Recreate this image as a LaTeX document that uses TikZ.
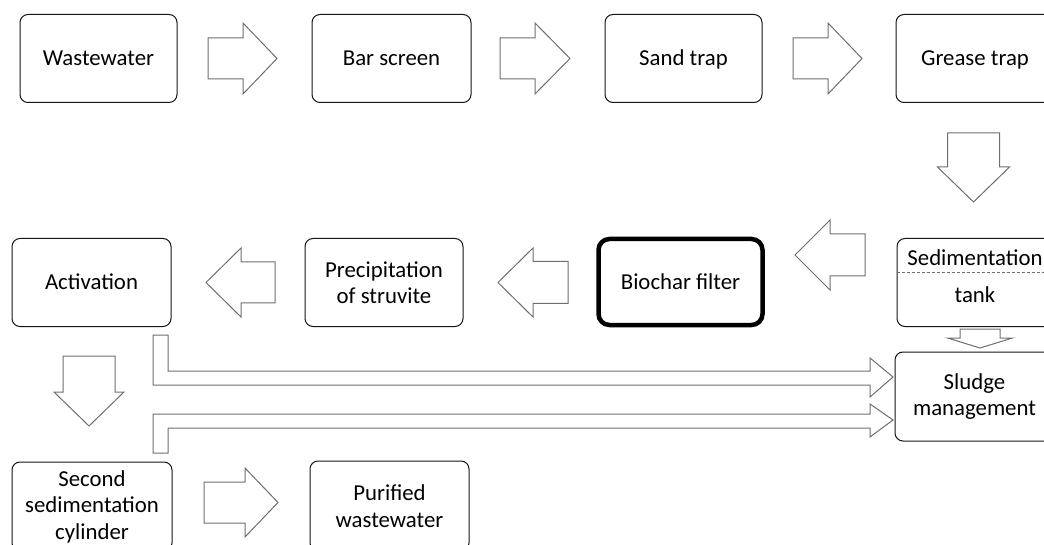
\documentclass[tikz,border=0pt]{standalone}
\usepackage{fontspec}
\setmainfont{Carlito}
\usepackage{xcolor}
\usepackage{tikz}
\usetikzlibrary{positioning, calc}

\definecolor{boxline}{RGB}{20,20,20}
\definecolor{arrowgray}{RGB}{110,110,110}

\tikzset{
	stepbox/.style={draw=boxline, line width=1pt, rounded corners=8pt, minimum width=158pt, minimum height=88pt, align=center, inner sep=2pt, text=black},
	oneline/.style={text height=19.5pt, text depth=5pt},
	keybox/.style={stepbox, draw=black, line width=4.5pt, rounded corners=11pt},
	arrowline/.style={draw=arrowgray, line width=1pt, line join=miter},
	plaintext/.style={inner sep=0pt, text=black}
}

% tail point, angle, shaft length, head length, shaft half width, head half width
\newcommand{\flowarrow}[6]{%
	\draw[arrowline, shift={#1}, rotate=#2] (0,#5) -- (#3,#5) -- (#3,#6) -- ({#3+#4},0) -- (#3,-#6) -- (#3,-#5) -- (0,-#5) -- cycle;}

\begin{document}
\begin{tikzpicture}[x=1pt, y=1pt,
			font=\fontsize{22.8}{26.5}\selectfont]
			\useasboundingbox (0,0) rectangle (1044,-545);
			\clip (0,0) rectangle (1044,-545);
			\node[stepbox, oneline, minimum width=157pt] (waste) at (98.5,-58.5) {Wastewater};
			\node[stepbox, oneline, minimum width=159pt] (bar) at (391.5,-58.5) {Bar screen};
			\node[stepbox, oneline, minimum width=157pt] (sand) at (683.5,-58.5) {Sand trap};
			\node[stepbox, oneline] (grease) at (975,-58.5) {Grease trap};
			\node[stepbox, oneline, minimum width=159pt] (act) at (91.5,-282.5) {Activation};
			\node[stepbox] (precip) at (384,-282.5) {Precipitation\\of struvite};
			\node[keybox, oneline, minimum width=164pt, minimum height=86pt] (bio) at (680.5,-282) {Biochar filter};
			\node[stepbox] (sed) at (976,-282.5) {};
			\node[plaintext] (sedtop) at (975,-258) {Sedimentation};
			\node[plaintext] (sedbot) at (975,-295) {tank};
			\draw[arrowgray, dashed, dash pattern=on 3pt off 2pt, line width=1pt] (sed.west |- 0,-273) -- (sed.east |- 0,-273);
			\node[stepbox, minimum width=159pt, minimum height=89pt] (sludge) at (974.5,-396.5) {Sludge\\management};
			\node[stepbox, minimum width=160pt, minimum height=89pt] (second) at (92,-506.5) {Second\\sedimentation\\cylinder};
			\node[stepbox, minimum width=159pt, minimum height=90pt] (pure) at (389.5,-506) {Purified\\wastewater};
			\flowarrow{(208,-58.5)}{0}{35}{34}{20.5}{35.5}
			\flowarrow{(500,-58.5)}{0}{35}{35}{20.5}{35.5}
			\flowarrow{(793,-58.5)}{0}{35}{34}{20.5}{35.5}
			\flowarrow{(973.5,-133)}{-90}{34}{35}{26}{36}
			\flowarrow{(865,-255)}{180}{35}{35}{21}{35}
			\flowarrow{(568,-282.5)}{180}{35}{35}{21}{34.5}
			\flowarrow{(275,-282.5)}{180}{34}{35}{20.5}{34.5}
			\flowarrow{(980,-329)}{-90}{9}{10}{20}{32.5}
			\flowarrow{(89,-356)}{-90}{36}{34}{26}{35}
			\flowarrow{(204,-502.5)}{0}{41}{33}{20.5}{34.5}
			\draw[arrowline] (153,-335) -- (153,-385) -- (870,-385) -- (870,-397) -- (893,-377) -- (870,-358) -- (870,-371) -- (168,-371) -- (168,-335) -- cycle;
			\draw[arrowline] (153,-453) -- (153,-414) -- (870,-414) -- (870,-404) -- (893,-420) -- (870,-437) -- (870,-428) -- (168,-428) -- (168,-453) -- cycle;
		\end{tikzpicture}
\end{document}
